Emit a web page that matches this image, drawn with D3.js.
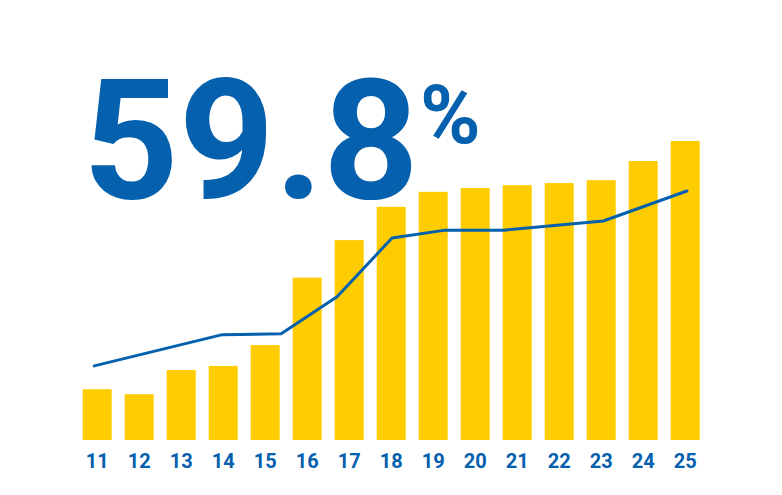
<!DOCTYPE html>
<html>
<head>
<meta charset="utf-8">
<script src="https://cdn.jsdelivr.net/npm/d3@7"></script>
<style>
  html, body { margin: 0; padding: 0; background: #ffffff; }
  svg { display: block; }
</style>
</head>
<body>
<svg id="chart" width="782" height="495"></svg>
<script>
// ---- data ----
const categories = ["11","12","13","14","15","16","17","18","19","20","21","22","23","24","25"];
const barValues  = [12.2, 11.0, 16.8, 17.8, 22.8, 39.0, 48.0, 56.0, 59.6, 60.5, 61.2, 61.7, 62.4, 67.0, 71.8];
// line points: position along the category axis (category number) and value
const linePositions = [10.93, 13.98, 15.38, 16.71, 18.02, 19.29, 20.69, 23.05, 25.04];
const lineValues    = [17.8, 25.3, 25.5, 34.4, 48.5, 50.4, 50.4, 52.6, 59.8];
const headline = "59.8";
const headlineUnit = "%";

// ---- layout ----
const baseY = 440;
const yMax = 80;
const blue = "#0560AE";
const yellow = "#FFCC00";

const svg = d3.select("#chart");

// band scale: step 42, bar width 29, first bar left at 82.7
const step = 42, barW = 29, firstLeft = 82.7;
const xb = d3.scaleBand().domain(categories)
  .range([firstLeft, firstLeft + step * categories.length - (step - barW)])
  .paddingInner((step - barW) / step)
  .paddingOuter(0);

const y = d3.scaleLinear().domain([0, yMax]).range([baseY, baseY - yMax * 4.164]);

// continuous x for line (category number -> bar center)
const firstCat = +categories[0], lastCat = +categories[categories.length - 1];
const xc = d3.scaleLinear()
  .domain([firstCat, lastCat])
  .range([xb(categories[0]) + xb.bandwidth() / 2, xb(categories[categories.length - 1]) + xb.bandwidth() / 2]);

// headline
svg.append("text")
  .attr("x", 83)
  .attr("y", 198)
  .attr("fill", blue)
  .attr("font-family", "Roboto, 'Noto Sans', sans-serif")
  .attr("font-weight", 700)
  .attr("font-size", 167)
  .text(headline);

svg.append("text")
  .attr("x", 420)
  .attr("y", 143)
  .attr("fill", blue)
  .attr("font-family", "Roboto, 'Noto Sans', sans-serif")
  .attr("font-weight", 700)
  .attr("font-size", 82)
  .text(headlineUnit);

// bars
svg.append("g").selectAll("rect")
  .data(categories)
  .join("rect")
  .attr("x", d => xb(d))
  .attr("width", xb.bandwidth())
  .attr("y", (d, i) => y(barValues[i]))
  .attr("height", (d, i) => y(0) - y(barValues[i]))
  .attr("fill", yellow);

// line
const lineData = linePositions.map((p, i) => [p, lineValues[i]]);
svg.append("path")
  .datum(lineData)
  .attr("fill", "none")
  .attr("stroke", blue)
  .attr("stroke-width", 3)
  .attr("stroke-linejoin", "round")
  .attr("stroke-linecap", "round")
  .attr("d", d3.line().x(d => xc(d[0])).y(d => y(d[1])));

// x axis labels
const axis = d3.axisBottom(xb).tickSize(0).tickPadding(0);
const ag = svg.append("g").attr("transform", `translate(0,${baseY})`).call(axis);
ag.select(".domain").remove();
ag.selectAll("text")
  .attr("y", 28)
  .attr("dy", null)
  .attr("fill", blue)
  .attr("font-family", "Roboto, 'Noto Sans', sans-serif")
  .attr("font-weight", 700)
  .attr("font-size", 20);
</script>
</body>
</html>
